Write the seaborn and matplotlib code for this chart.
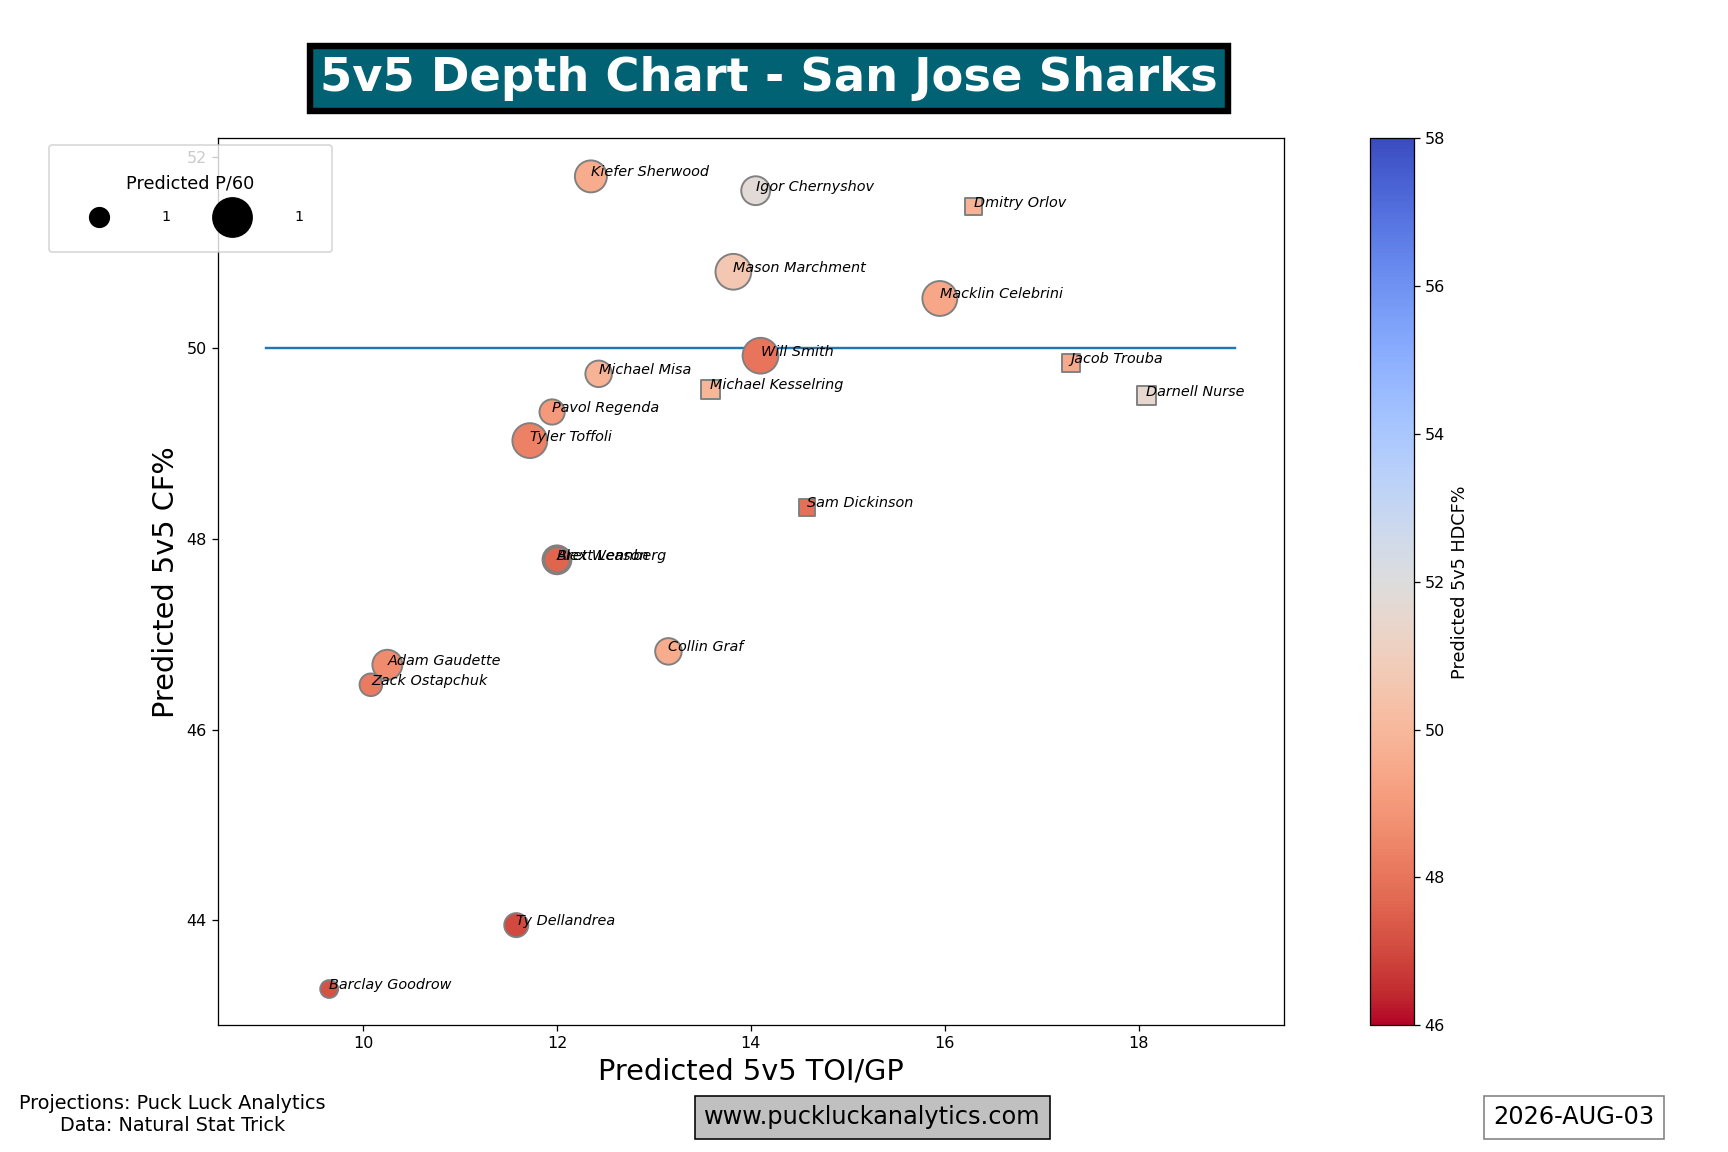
import numpy as np
import pandas as pd
import matplotlib
matplotlib.use("Agg")
import matplotlib.pyplot as plt
import seaborn as sns

players = ["Kiefer Sherwood", "Igor Chernyshov", "Dmitry Orlov", "Mason Marchment",
           "Macklin Celebrini", "Will Smith", "Jacob Trouba", "Michael Misa",
           "Michael Kesselring", "Darnell Nurse", "Pavol Regenda", "Tyler Toffoli",
           "Sam Dickinson", "Alex Wennberg", "Brett Leason", "Collin Graf",
           "Adam Gaudette", "Zack Ostapchuk", "Ty Dellandrea", "Barclay Goodrow"]
toi = [12.35, 14.05, 16.3, 13.82, 15.95, 14.1, 17.3, 12.43, 13.58, 18.08,
       11.95, 11.72, 14.58, 12.0, 12.0, 13.15, 10.25, 10.08, 11.58, 9.65]
cf = [51.8, 51.65, 51.48, 50.8, 50.52, 49.92, 49.84, 49.73, 49.57, 49.5,
      49.33, 49.03, 48.33, 47.78, 47.78, 46.82, 46.68, 46.47, 43.95, 43.28]
hdcf = [49.6, 51.8, 49.8, 50.6, 49.4, 48.0, 49.5, 49.8, 49.9, 51.5,
        49.0, 48.3, 47.9, 47.6, 47.6, 49.6, 48.6, 48.2, 47.0, 47.2]
p60 = [1.6, 1.3, 0.8, 2.0, 1.9, 2.0, 0.9, 1.1, 1.0, 1.0,
       1.0, 1.9, 0.8, 1.3, 1.0, 1.1, 1.4, 0.8, 0.9, 0.5]
position = ["F", "F", "D", "F", "F", "F", "D", "F", "D", "D",
            "F", "F", "D", "F", "F", "F", "F", "F", "F", "F"]

df = pd.DataFrame({"player": players, "toi": toi, "cf": cf, "hdcf": hdcf,
                   "p60": p60, "pos": position})

plt.rcParams["font.family"] = ["DejaVu Sans"]
fig = plt.figure(figsize=(15, 10), dpi=115.2)
ax = fig.add_axes([0.126, 0.11, 0.617, 0.77])
cax = fig.add_axes([0.793, 0.11, 0.025, 0.77])

cmap = plt.get_cmap("coolwarm_r")
norm = matplotlib.colors.Normalize(46, 58)
for pos, mk in [("F", "o"), ("D", "s")]:
    sub = df[df.pos == pos]
    ax.scatter(sub.toi, sub.cf, s=sub.p60 * 250 if pos == "F" else sub.p60 * 140,
               c=sub.hdcf, cmap=cmap, norm=norm, marker=mk,
               edgecolors="grey", linewidths=1.2, zorder=3)
for _, r in df.iterrows():
    ax.text(r.toi, r.cf, r.player, fontsize=9, style="italic", zorder=4)

ax.plot([9, 19], [50, 50], color="#1f77b4", lw=1.5)
ax.set_xlim(8.5, 19.5)
ax.set_ylim(42.9, 52.2)
ax.set_yticks([44, 46, 48, 50, 52])
ax.set_xticks([10, 12, 14, 16, 18])
ax.set_xlabel("Predicted 5v5 TOI/GP", fontsize=18)
ax.set_ylabel("Predicted 5v5 CF%", fontsize=18)

cb = fig.colorbar(matplotlib.cm.ScalarMappable(norm=norm, cmap=cmap), cax=cax)
cb.set_label("Predicted 5v5 HDCF%", fontsize=11)

h1 = ax.scatter([], [], s=150, c="black")
h2 = ax.scatter([], [], s=600, c="black")
leg = ax.legend([h1, h2], ["1", "1"], title="Predicted P/60", ncol=2,
                loc="upper left", bbox_to_anchor=(-0.165, 1.0), fontsize=9,
                title_fontsize=11, borderpad=2.0, labelspacing=1.2,
                columnspacing=2.8, handletextpad=2.8, handlelength=3,
                frameon=True)
leg.set_zorder(10)

fig.text(0.445, 0.932, "5v5 Depth Chart - San Jose Sharks", fontsize=29,
         weight="bold", color="white", ha="center", va="center",
         bbox=dict(facecolor="#006272", edgecolor="black", linewidth=4, pad=6))
fig.text(0.1, 0.018, "Projections: Puck Luck Analytics\nData: Natural Stat Trick",
         fontsize=12, ha="center")
fig.text(0.505, 0.03, "www.puckluckanalytics.com", fontsize=15, ha="center",
         va="center", bbox=dict(facecolor="#c0c0c0", edgecolor="black", pad=6))
fig.text(0.911, 0.03, "2026-AUG-03", fontsize=15, ha="center", va="center",
         bbox=dict(facecolor="white", edgecolor="grey", pad=6))

fig.savefig("out.png", dpi=115.2)
